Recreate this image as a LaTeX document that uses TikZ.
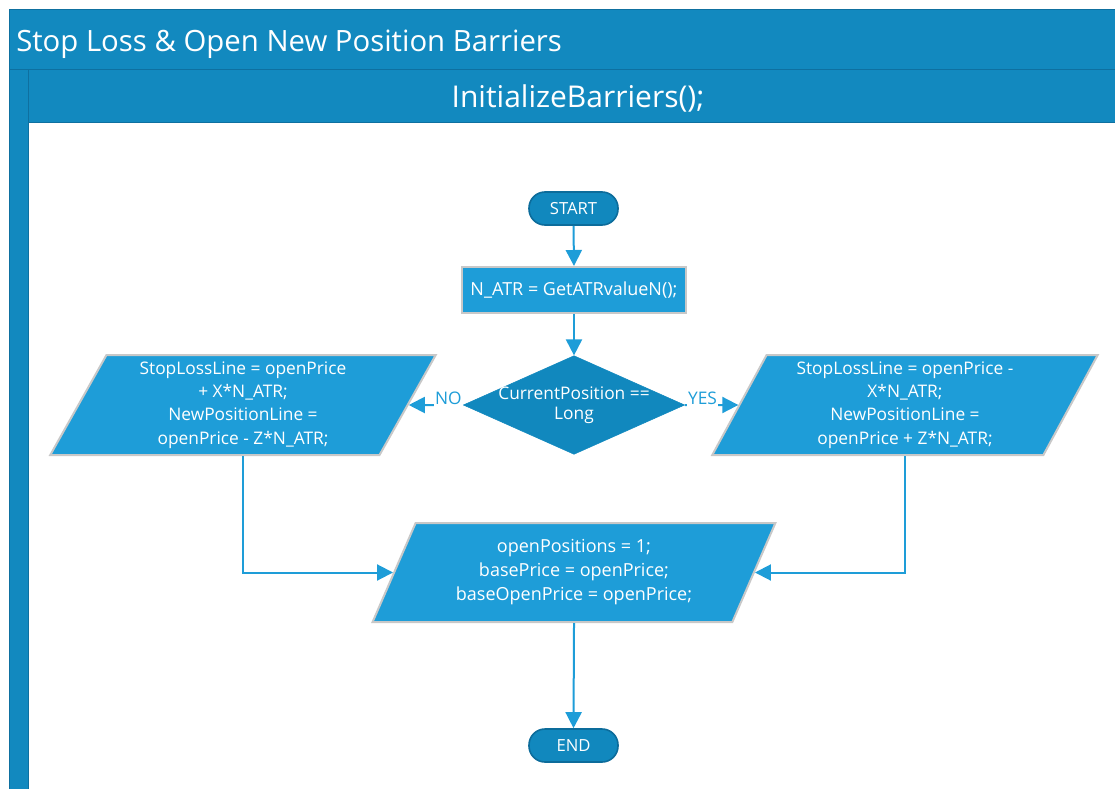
\documentclass[tikz,border=0pt]{standalone}
\usepackage{fontspec}
\setmainfont{Open Sans}
\usetikzlibrary{shapes.geometric,arrows.meta}
\definecolor{barblue}{RGB}{18,137,191}
\definecolor{barline}{RGB}{14,112,160}
\definecolor{boxblue}{RGB}{30,157,216}
\definecolor{boxline}{RGB}{200,200,200}
\definecolor{termblue}{RGB}{17,136,190}
\definecolor{termline}{RGB}{12,108,155}
\tikzset{
  term/.style={draw=termline, line width=1.2pt, fill=termblue, rounded corners=12pt,
    minimum width=66.75pt, minimum height=24.75pt, text=white,
    font=\fontsize{12.5}{14}\selectfont},
  proc/.style={draw=boxline, line width=1.5pt, fill=boxblue, minimum width=168pt,
    minimum height=34.5pt, text=white, font=\fontsize{13.5}{15}\selectfont},
  decide/.style={diamond, aspect=2.2, draw=termblue, fill=termblue, inner sep=-3pt,
    minimum width=166pt, minimum height=74pt, text=white, align=center,
    font=\fontsize{13}{15}\selectfont},
  iobox/.style={trapezium, trapezium left angle=63.9, trapezium right angle=116.1,
    trapezium stretches, draw=boxline, line width=1.5pt, fill=boxblue, text=white,
    align=center, minimum width=289.5pt, minimum height=75pt, inner sep=0pt,
    font=\fontsize{13}{17.5}\selectfont},
  flow/.style={draw=boxblue, line width=1.5pt, -{Triangle[length=12pt,width=12pt]}},
  yesno/.style={text=boxblue, fill=white, inner xsep=1pt, inner ysep=2.5pt, anchor=base,
    font=\fontsize{13}{15}\selectfont}
}
\begin{document}
\begin{tikzpicture}[x=0.75pt,y=-0.75pt]
  \useasboundingbox (0,0) rectangle (1115,789);
  % swimlane frame
  \filldraw[fill=barblue, draw=barline, line width=0.75pt] (9,9) rectangle (1125,69);
  \filldraw[fill=barblue, draw=barline, line width=0.75pt] (9,69) rectangle (28,800);
  \filldraw[fill=barblue, draw=barline, line width=0.75pt] (28,69) rectangle (1125,122);
  \node[anchor=base west, inner sep=0pt, text=white, font=\fontsize{22}{26}\selectfont]
    (title) at (16,51) {Stop Loss \& Open New Position Barriers};
  \node[anchor=base, inner sep=0pt, text=white, font=\fontsize{22.5}{26}\selectfont]
    (func) at (578,107) {InitializeBarriers();};
  % flowchart
  \node[term] (start) at (573.5,208.5) {START};
  \node[proc] (natr) at (574,290) {N\_ATR = GetATRvalueN();};
  \node[decide] (dia) at (574,405) {CurrentPosition ==\\Long};
  \node[iobox] (nobox) at (243,405) {StopLossLine = openPrice\\+ X*N\_ATR;\\NewPositionLine =\\openPrice - Z*N\_ATR;};
  \node[iobox] (yesbox) at (905,405) {StopLossLine = openPrice -\\X*N\_ATR;\\NewPositionLine =\\openPrice + Z*N\_ATR;};
  \node[iobox, minimum width=303pt, minimum height=74.25pt,
    font=\fontsize{13.5}{18}\selectfont] (merge) at (574,572.5)
    {openPositions = 1;\\basePrice = openPrice;\\baseOpenPrice = openPrice;};
  \node[term] (end) at (573.5,745.5) {END};
  \draw[flow] (start.south) -- (natr.north);
  \draw[flow] (natr.south) -- (dia.north);
  \draw[flow] (dia.west) -- node[yesno, pos=0.27, yshift=0.75pt] {NO} (nobox.east);
  \draw[flow] (dia.east) -- node[yesno, pos=0.33, yshift=0.75pt] {YES} (yesbox.west);
  \draw[flow] (nobox.south) |- (merge.west);
  \draw[flow] (yesbox.south) |- (merge.east);
  \draw[flow] (merge.south) -- (end.north);
\end{tikzpicture}
\end{document}
